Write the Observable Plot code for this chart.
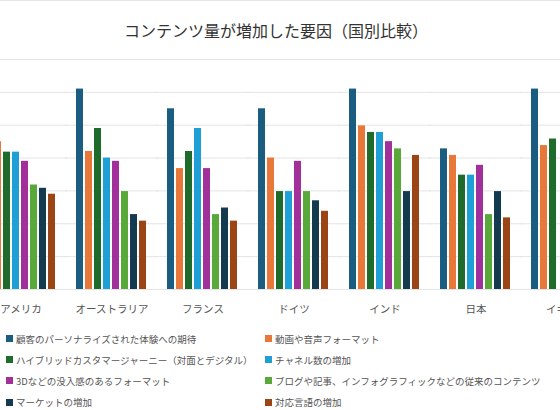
<!DOCTYPE html>
<html>
<head>
<meta charset="utf-8">
<script src="https://cdn.jsdelivr.net/npm/d3@7"></script>
<script src="https://cdn.jsdelivr.net/npm/@observablehq/plot@0.6"></script>
<style>
  body {
    margin: 0;
    width: 560px;
    height: 410px;
    overflow: hidden;
    background: #fff;
    border-top: 1px solid #e6e6e6;
    box-sizing: border-box;
    font-family: "Noto Sans CJK JP", "Noto Sans", sans-serif;
    position: relative;
  }
  h2 {
    margin: 0;
    position: absolute;
    top: 17px;
    left: 0;
    width: 552px;
    text-align: center;
    font-size: 16px;
    font-weight: normal;
    color: #333;
  }
  #grafico {
    position: absolute;
    top: 49px;
    left: -27px;
    width: 640px;
  }
  #leyenda {
    position: absolute;
    top: 327px;
    left: 6px;
    display: grid;
    grid-template-columns: 259px 259px;
    grid-auto-rows: 21.2px;
    font-size: 9.5px;
    color: #555;
  }
  #leyenda div {
    display: flex;
    align-items: center;
    white-space: nowrap;
  }
  #leyenda span {
    display: inline-block;
    flex-shrink: 0;
    width: 7px;
    height: 7px;
    margin-right: 3px;
  }
</style>
</head>
<body>
<h2>コンテンツ量が増加した要因（国別比較）</h2>
<div id="grafico"></div>
<div id="leyenda"></div>
<script>
  /* Países (grupos) */
  const paises = ['アメリカ', 'オーストラリア', 'フランス', 'ドイツ', 'インド', '日本', 'イギリス']

  /* Factores (series) */
  const factores = [
    '顧客のパーソナライズされた体験への期待',
    '動画や音声フォーマット',
    'ハイブリッドカスタマージャーニー（対面とデジタル）',
    'チャネル数の増加',
    '3Dなどの没入感のあるフォーマット',
    'ブログや記事、インフォグラフィックなどの従来のコンテンツ',
    'マーケットの増加',
    '対応言語の増加'
  ]
  const colores = ['#1b5d80', '#e8773a', '#1e6b2b', '#1ea0d7', '#a1309b', '#58a93a', '#143a4f', '#9b4516']

  /* Valores, un array por país (null = fuera de cuadro) */
  const vAmerica = [null, 22.5, 20.9, 20.9, 19.5, 15.9, 15.4, 14.5]
  const vAustralia = [30.5, 21.0, 24.5, 20.0, 19.5, 14.9, 11.4, 10.4]
  const vFrancia = [27.5, 18.4, 21.0, 24.5, 18.4, 11.4, 12.4, 10.4]
  const vAlemania = [27.5, 20.0, 14.9, 14.9, 19.5, 14.9, 13.5, 11.9]
  const vIndia = [30.5, 24.9, 23.9, 23.9, 22.5, 21.4, 14.9, 20.4]
  const vJapon = [21.4, 20.4, 17.4, 17.4, 18.9, 11.4, 14.9, 10.9]
  const vReinoUnido = [30.5, 21.9, 22.9, null, null, null, null, null]

  const ticksY = [0, 5, 10, 15, 20, 25, 30, 35]

  /* Tabla larga para el facet */
  const valores = [vAmerica, vAustralia, vFrancia, vAlemania, vIndia, vJapon, vReinoUnido]
  const filas = []
  paises.forEach((p, i) => {
    factores.forEach((f, j) => {
      if (valores[i][j] != null) filas.push({pais: p, factor: f, valor: valores[i][j]})
    })
  })

  let chart = Plot.plot({
    width: 640,
    height: 270,
    marginTop: 9,
    marginBottom: 31,
    marginLeft: 0,
    marginRight: 0,
    style: {
      fontFamily: '"Noto Sans CJK JP", "Noto Sans", sans-serif',
      fontSize: '10.5px',
      color: '#555',
      background: 'transparent',
      overflow: 'visible',
      maxWidth: 'none',
    },
    facet: {data: filas, x: 'pais'},
    fx: {
      domain: paises,
      paddingInner: 0.18,
      paddingOuter: 0.09,
      label: null,
      axis: 'bottom',
      tickSize: 0,
      tickPadding: 16,
    },
    x: {domain: factores, paddingInner: 0.19, paddingOuter: 0, axis: null},
    y: {domain: [0, 35], axis: null},
    color: {domain: factores, range: colores},
    marks: [
      Plot.ruleY(ticksY, {stroke: '#e4e4e4', strokeWidth: 1, insetLeft: -9, insetRight: -9}),
      Plot.barY(filas, {x: 'factor', y: 'valor', fill: 'factor'}),
    ],
  })

  d3.select('#grafico').append(() => chart)

  /* Leyenda en dos columnas, colores desde la escala del gráfico */
  const escala = chart.scale('color')
  const leyenda = d3.select('#leyenda')
  factores.forEach(f => {
    const item = leyenda.append('div')
    item.append('span').style('background', escala.apply(f))
    item.append('text').text(f)
  })
</script>
</body>
</html>
